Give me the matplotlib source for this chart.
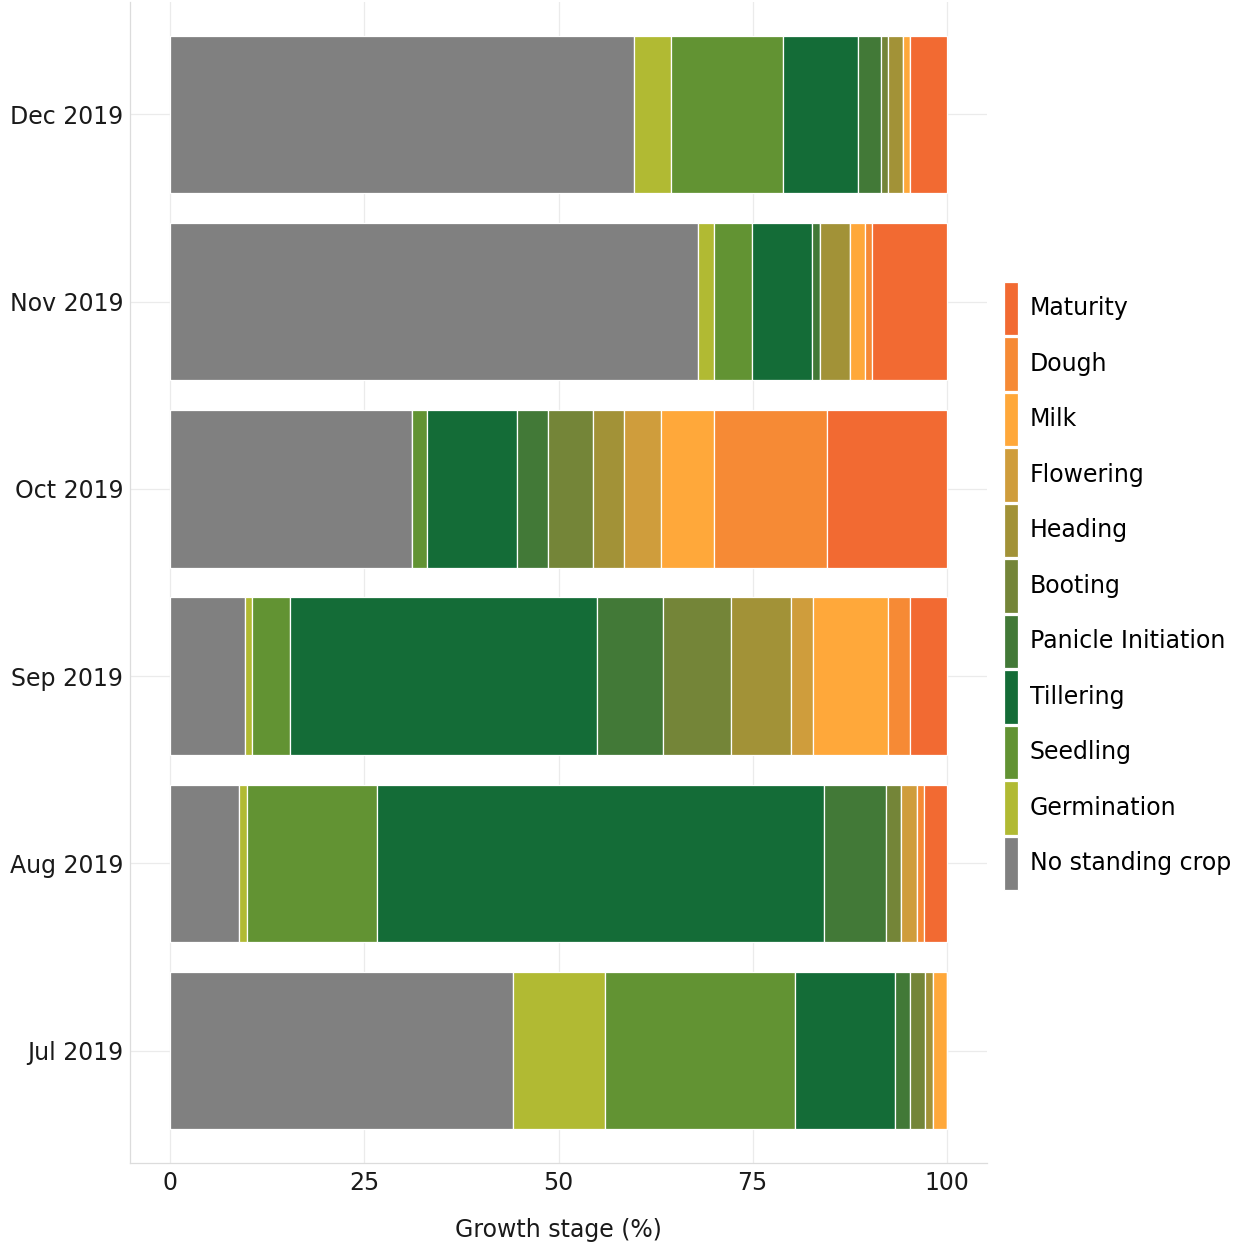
import matplotlib.pyplot as plt
import numpy as np

plt.rcParams['font.family'] = ['DejaVu Sans']

# 月份（从下到上）
months = ['Jul 2019', 'Aug 2019', 'Sep 2019', 'Oct 2019', 'Nov 2019', 'Dec 2019']

stages = ['No standing crop', 'Germination', 'Seedling', 'Tillering',
          'Panicle Initiation', 'Booting', 'Heading', 'Flowering',
          'Milk', 'Dough', 'Maturity']

colors = ['#808080', '#B1BA33', '#629333', '#146C37', '#427937', '#748538',
          '#A29237', '#CF9D3C', '#FFA83A', '#F68A35', '#F26A32']

# 各生长阶段百分比（顺序同 months）
no_crop = [44.2, 8.9, 9.6, 31.1, 68.0, 59.7]
germination = [11.8, 1.0, 1.0, 0.0, 2.0, 4.8]
seedling = [24.5, 16.8, 4.8, 2.0, 4.9, 14.4]
tillering = [12.8, 57.5, 39.5, 11.6, 7.7, 9.6]
panicle = [1.9, 8.0, 8.6, 3.9, 1.0, 3.0]
booting = [2.0, 1.9, 8.7, 5.9, 0.0, 0.9]
heading = [1.0, 0.0, 7.7, 3.9, 3.9, 1.9]
flowering = [0.0, 2.0, 2.9, 4.8, 0.0, 0.0]
milk = [1.8, 0.0, 9.6, 6.8, 1.9, 1.0]
dough = [0.0, 1.0, 2.9, 14.5, 1.0, 0.0]
maturity = [0.0, 2.9, 4.7, 15.5, 9.6, 4.7]

series = [no_crop, germination, seedling, tillering, panicle, booting,
          heading, flowering, milk, dough, maturity]

fig = plt.figure(figsize=(12.38, 12.44), dpi=100)
ax = fig.add_axes([130 / 1238, 1 - 1163 / 1244, 857 / 1238, 1161 / 1244])

y = np.arange(len(months))
left = np.zeros(len(months))
handles = []
for name, vals, col in zip(stages, series, colors):
    vals = np.array(vals)
    h = ax.barh(y, vals, left=left, height=0.84, color=col, edgecolor='white',
                linewidth=0.9, label=name)
    handles.append(h)
    left += vals

ax.set_xlim(-5.15, 105.15)
ax.set_ylim(-0.6, 5.6)
ax.set_xticks([0, 25, 50, 75, 100])
ax.set_yticks(y)
ax.set_yticklabels(months)
ax.tick_params(axis='both', length=0, labelsize=17, colors='#1a1a1a', pad=6)
ax.tick_params(axis='y', pad=5)
ax.set_xlabel('Growth stage (%)', fontsize=17, color='#1a1a1a', labelpad=16)

ax.grid(True, color='#ebebeb', linewidth=0.9)
ax.set_axisbelow(True)
for s in ['top', 'right']:
    ax.spines[s].set_visible(False)
for s in ['left', 'bottom']:
    ax.spines[s].set_color('#dcdcdc')
    ax.spines[s].set_linewidth(0.9)

# 图例（倒序，Maturity 在上）
leg = fig.legend(handles[::-1], stages[::-1], loc='center left',
                 bbox_to_anchor=(1004 / 1238, 1 - 586 / 1244), frameon=False,
                 fontsize=17, handlelength=0.6, handleheight=3.1,
                 labelspacing=0.09, handletextpad=0.5, borderpad=0,
                 borderaxespad=0)

fig.savefig('out.png', dpi=100)
